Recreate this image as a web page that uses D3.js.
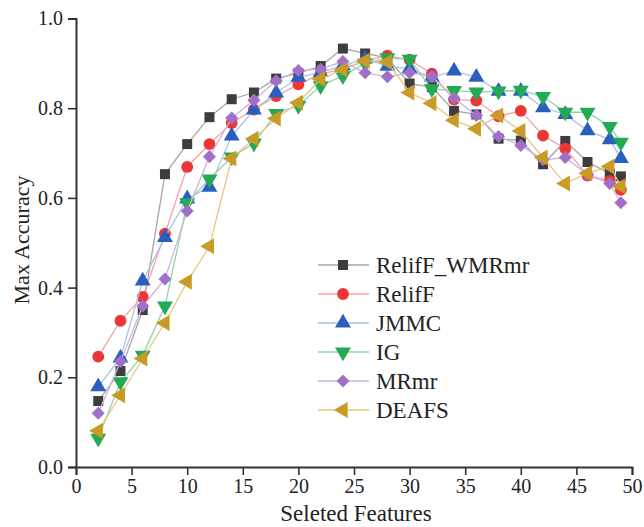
<!DOCTYPE html>
<html>
<head>
<meta charset="utf-8">
<script src="https://cdn.jsdelivr.net/npm/d3@7"></script>
<style>
  body { margin: 0; background: #fff; }
  svg text { font-family: "Liberation Serif", "Times New Roman", serif; fill: #222; }
</style>
</head>
<body>
<div id="chart"></div>
<script>
// feature counts on the x axis
var features = [2, 4, 6, 8, 10, 12, 14, 16, 18, 20, 22, 24, 26, 28, 30, 32, 34, 36, 38, 40, 42, 44, 46, 48, 49];

var relifF_WMRmr = [0.147, 0.214, 0.350, 0.653, 0.720, 0.780, 0.820, 0.835, 0.866, 0.878, 0.894, 0.933, 0.922, 0.912, 0.855, 0.847, 0.794, 0.786, 0.732, 0.728, 0.675, 0.727, 0.680, 0.654, 0.648];
var relifF = [0.246, 0.326, 0.379, 0.520, 0.669, 0.720, 0.767, 0.797, 0.827, 0.853, 0.876, 0.887, 0.906, 0.917, 0.908, 0.877, 0.819, 0.817, 0.782, 0.794, 0.739, 0.710, 0.650, 0.638, 0.618];
var jmmc = [0.179, 0.243, 0.415, 0.512, 0.598, 0.624, 0.738, 0.796, 0.834, 0.869, 0.880, 0.895, 0.910, 0.894, 0.888, 0.869, 0.883, 0.869, 0.838, 0.838, 0.801, 0.786, 0.750, 0.730, 0.688];
var ig = [0.064, 0.190, 0.249, 0.359, 0.589, 0.642, 0.691, 0.722, 0.788, 0.806, 0.850, 0.872, 0.900, 0.912, 0.909, 0.843, 0.839, 0.836, 0.838, 0.840, 0.826, 0.791, 0.791, 0.759, 0.724];
var mrmr = [0.120, 0.235, 0.359, 0.419, 0.571, 0.692, 0.778, 0.818, 0.861, 0.884, 0.887, 0.904, 0.879, 0.870, 0.879, 0.871, 0.822, 0.784, 0.737, 0.717, 0.685, 0.690, 0.652, 0.632, 0.589];
var deafs = [0.081, 0.160, 0.242, 0.321, 0.413, 0.492, 0.688, 0.732, 0.777, 0.812, 0.865, 0.886, 0.906, 0.903, 0.835, 0.811, 0.773, 0.754, 0.784, 0.749, 0.690, 0.632, 0.655, 0.670, 0.626];

var seriesNames = ["RelifF_WMRmr", "RelifF", "JMMC", "IG", "MRmr", "DEAFS"];
var xTicks = [0, 5, 10, 15, 20, 25, 30, 35, 40, 45, 50];
var yTicks = [0.0, 0.2, 0.4, 0.6, 0.8, 1.0];

var series = [
    {name: seriesNames[0], values: relifF_WMRmr, mark: "#3d3d3d", line: "#a6a6a6", shape: d3.symbolSquare, rot: 0, size: 100},
    {name: seriesNames[1], values: relifF, mark: "#ee3636", line: "#f4a3a3", shape: d3.symbolCircle, rot: 0, size: 110},
    {name: seriesNames[2], values: jmmc, mark: "#2b5fbf", line: "#a9c3e6", shape: d3.symbolTriangle, rot: 0, size: 110},
    {name: seriesNames[3], values: ig, mark: "#22aa55", line: "#92d3a9", shape: d3.symbolTriangle, rot: 180, size: 110},
    {name: seriesNames[4], values: mrmr, mark: "#a070c8", line: "#ceb3e0", shape: d3.symbolSquare, rot: 45, size: 85},
    {name: seriesNames[5], values: deafs, mark: "#c99a25", line: "#e3c882", shape: d3.symbolTriangle, rot: -90, size: 110}
];

var width = 644, height = 527;

var svg = d3.select("#chart").append("svg")
    .attr("width", width)
    .attr("height", height);

var x = d3.scaleLinear().domain([0, 50]).range([76, 632]);
var y = d3.scaleLinear().domain([0, 1]).range([467, 18.5]);

// axes
var xAxis = svg.append("g").attr("transform", "translate(0," + y(0) + ")");
xAxis.call(d3.axisBottom(x).tickValues(d3.range(0, 50.1, 2.5)).tickSize(4).tickFormat(""));
xAxis.call(d3.axisBottom(x).tickValues(xTicks).tickSize(8).tickPadding(4).tickFormat(d3.format("d")));
xAxis.selectAll("path.domain").attr("stroke", "#333").attr("stroke-width", 2);
xAxis.selectAll("line").attr("stroke", "#333").attr("stroke-width", 1.6);
xAxis.selectAll("text").style("font-size", "20px").attr("fill", "#222");

var yAxis = svg.append("g").attr("transform", "translate(" + x(0) + ",0)");
yAxis.call(d3.axisLeft(y).tickValues(d3.range(0, 1.01, 0.1)).tickSize(4).tickFormat(""));
yAxis.call(d3.axisLeft(y).tickValues(yTicks).tickSize(8).tickPadding(5).tickFormat(d3.format(".1f")));
yAxis.selectAll("path.domain").attr("stroke", "#333").attr("stroke-width", 2);
yAxis.selectAll("line").attr("stroke", "#333").attr("stroke-width", 1.6);
yAxis.selectAll("text").style("font-size", "20px").attr("fill", "#222");

// titles
svg.append("text")
    .attr("x", 356).attr("y", 521)
    .attr("text-anchor", "middle")
    .style("font-size", "23px")
    .text("Seleted Features");

svg.append("text")
    .attr("transform", "translate(29,240) rotate(-90)")
    .attr("text-anchor", "middle")
    .style("font-size", "22px")
    .text("Max Accuracy");

var line = d3.line()
    .x(function(d, i) { return x(features[i]); })
    .y(function(d) { return y(d); });

// each series: line then its markers
series.forEach(function(s) {
    var g = svg.append("g");
    g.append("path")
        .attr("d", line(s.values))
        .attr("fill", "none")
        .attr("stroke", s.line)
        .attr("stroke-width", 1.3);

    g.selectAll("path.mk")
        .data(s.values)
        .enter()
        .append("path")
        .attr("class", "mk")
        .attr("d", d3.symbol().type(s.shape).size(s.size))
        .attr("transform", function(d, i) {
            return "translate(" + x(features[i]) + "," + y(d) + ") rotate(" + s.rot + ")";
        })
        .attr("fill", s.mark);
});

// legend
var legend = svg.append("g");
series.forEach(function(s, i) {
    var ly = 265 + i * 29;
    legend.append("line")
        .attr("x1", 318).attr("x2", 369)
        .attr("y1", ly).attr("y2", ly)
        .attr("stroke", s.line)
        .attr("stroke-width", 1.3);
    legend.append("path")
        .attr("d", d3.symbol().type(s.shape).size(s.size))
        .attr("transform", "translate(343," + ly + ") rotate(" + s.rot + ")")
        .attr("fill", s.mark);
    legend.append("text")
        .attr("x", 376).attr("y", ly + 8)
        .style("font-size", "23px")
        .text(s.name);
});
</script>
</body>
</html>
